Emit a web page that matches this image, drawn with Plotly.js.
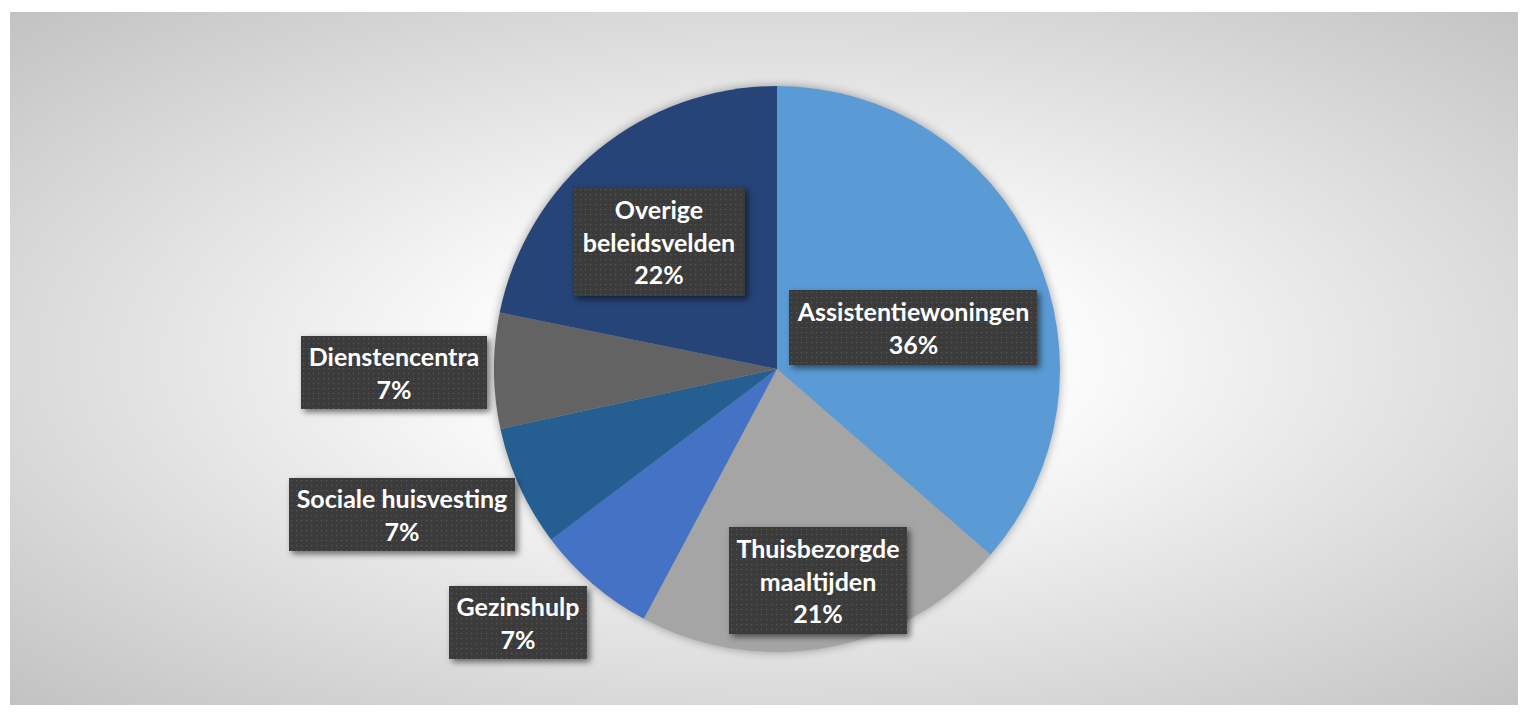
<!DOCTYPE html>
<html>
<head>
<meta charset="utf-8">
<script src="https://cdn.plot.ly/plotly-3.0.1.min.js"></script>
<style>
  html, body { margin: 0; padding: 0; background: #ffffff; }
  #wrap { position: relative; width: 1528px; height: 717px; overflow: hidden; }
  #bg { position: absolute; left: 10px; top: 12px; width: 1508px; height: 693px;
        background: radial-gradient(ellipse farthest-corner at 51% 50%, #ffffff 0%, #ffffff 22%, #c2c2c2 100%); }
  #plot { position: absolute; left: 0; top: 0; width: 1528px; height: 717px; }
  .pielayer .trace { filter: drop-shadow(0px 0px 5px rgba(0,0,0,0.35)); }
  .annotation-text-g rect.bg { filter: drop-shadow(3px 3px 3px rgba(0,0,0,0.55)); }
</style>
</head>
<body>
<div id="wrap">
  <div id="bg"></div>
  <div id="plot"></div>
</div>
<script>
// ---- data ----
const categories = ['Assistentiewoningen', 'Thuisbezorgde maaltijden', 'Gezinshulp',
                    'Sociale huisvesting', 'Dienstencentra', 'Overige beleidsvelden'];
const labelLines = ['Assistentiewoningen', 'Thuisbezorgde<br>maaltijden', 'Gezinshulp',
                    'Sociale huisvesting', 'Dienstencentra', 'Overige<br>beleidsvelden'];
const values = [36.4, 21.4, 6.9, 6.9, 6.6, 21.8];
const colors = ['#5B9BD5', '#A5A5A5', '#4472C4', '#255E91', '#636363', '#264478'];

// ---- layout helpers (pixel positions of label boxes) ----
const W = 1528, H = 717;
const boxes = [
  {cx: 913, cy: 327, w: 248, h: 75},
  {cx: 818, cy: 580, w: 178, h: 107},
  {cx: 518, cy: 622, w: 138, h: 73},
  {cx: 402, cy: 514, w: 226, h: 73},
  {cx: 394, cy: 372, w: 186, h: 73},
  {cx: 659, cy: 241, w: 172, h: 109}
];

const total = values.reduce((a, b) => a + b, 0);
const annotations = categories.map((c, i) => ({
  xref: 'paper', yref: 'paper',
  x: boxes[i].cx / W, y: 1 - boxes[i].cy / H,
  xanchor: 'center', yanchor: 'middle',
  text: labelLines[i] + '<br>' + Math.round(values[i] / total * 100) + '%',
  showarrow: false,
  width: boxes[i].w, height: boxes[i].h,
  bgcolor: '#3e3e3e', borderpad: 0, borderwidth: 0,
  align: 'center', valign: 'middle',
  font: {family: 'Lato, "Open Sans", sans-serif', size: 25, color: '#ffffff', weight: 'bold'}
}));

const pcx = 777, pcy = 369, r = 283;
const trace = {
  type: 'pie',
  labels: categories,
  values: values,
  sort: false,
  direction: 'clockwise',
  rotation: 0,
  marker: {colors: colors, line: {width: 0}},
  textinfo: 'none',
  hoverinfo: 'skip',
  showlegend: false,
  domain: {x: [(pcx - r) / W, (pcx + r) / W], y: [1 - (pcy + r) / H, 1 - (pcy - r) / H]}
};

const layout = {
  width: W, height: H,
  margin: {l: 0, r: 0, t: 0, b: 0},
  paper_bgcolor: 'rgba(0,0,0,0)',
  plot_bgcolor: 'rgba(0,0,0,0)',
  showlegend: false,
  annotations: annotations
};

Plotly.newPlot('plot', [trace], layout, {displayModeBar: false, staticPlot: true}).then(function () {
  const svg = document.querySelector('#plot svg.main-svg');
  const ns = 'http://www.w3.org/2000/svg';
  let defs = svg.querySelector('defs');
  if (!defs) { defs = document.createElementNS(ns, 'defs'); svg.insertBefore(defs, svg.firstChild); }
  const pat = document.createElementNS(ns, 'pattern');
  pat.setAttribute('id', 'dotpat');
  pat.setAttribute('width', '5'); pat.setAttribute('height', '5');
  pat.setAttribute('patternUnits', 'userSpaceOnUse');
  const base = document.createElementNS(ns, 'rect');
  base.setAttribute('width', '5'); base.setAttribute('height', '5'); base.setAttribute('fill', '#3b3b3b');
  const dot = document.createElementNS(ns, 'rect');
  dot.setAttribute('x', '2'); dot.setAttribute('y', '2');
  dot.setAttribute('width', '1.2'); dot.setAttribute('height', '1.2'); dot.setAttribute('fill', '#585858');
  pat.appendChild(base); pat.appendChild(dot);
  defs.appendChild(pat);
  document.querySelectorAll('#plot .annotation-text-g rect.bg').forEach(function (rc) {
    rc.style.fill = 'url(#dotpat)';
  });
});
</script>
</body>
</html>
